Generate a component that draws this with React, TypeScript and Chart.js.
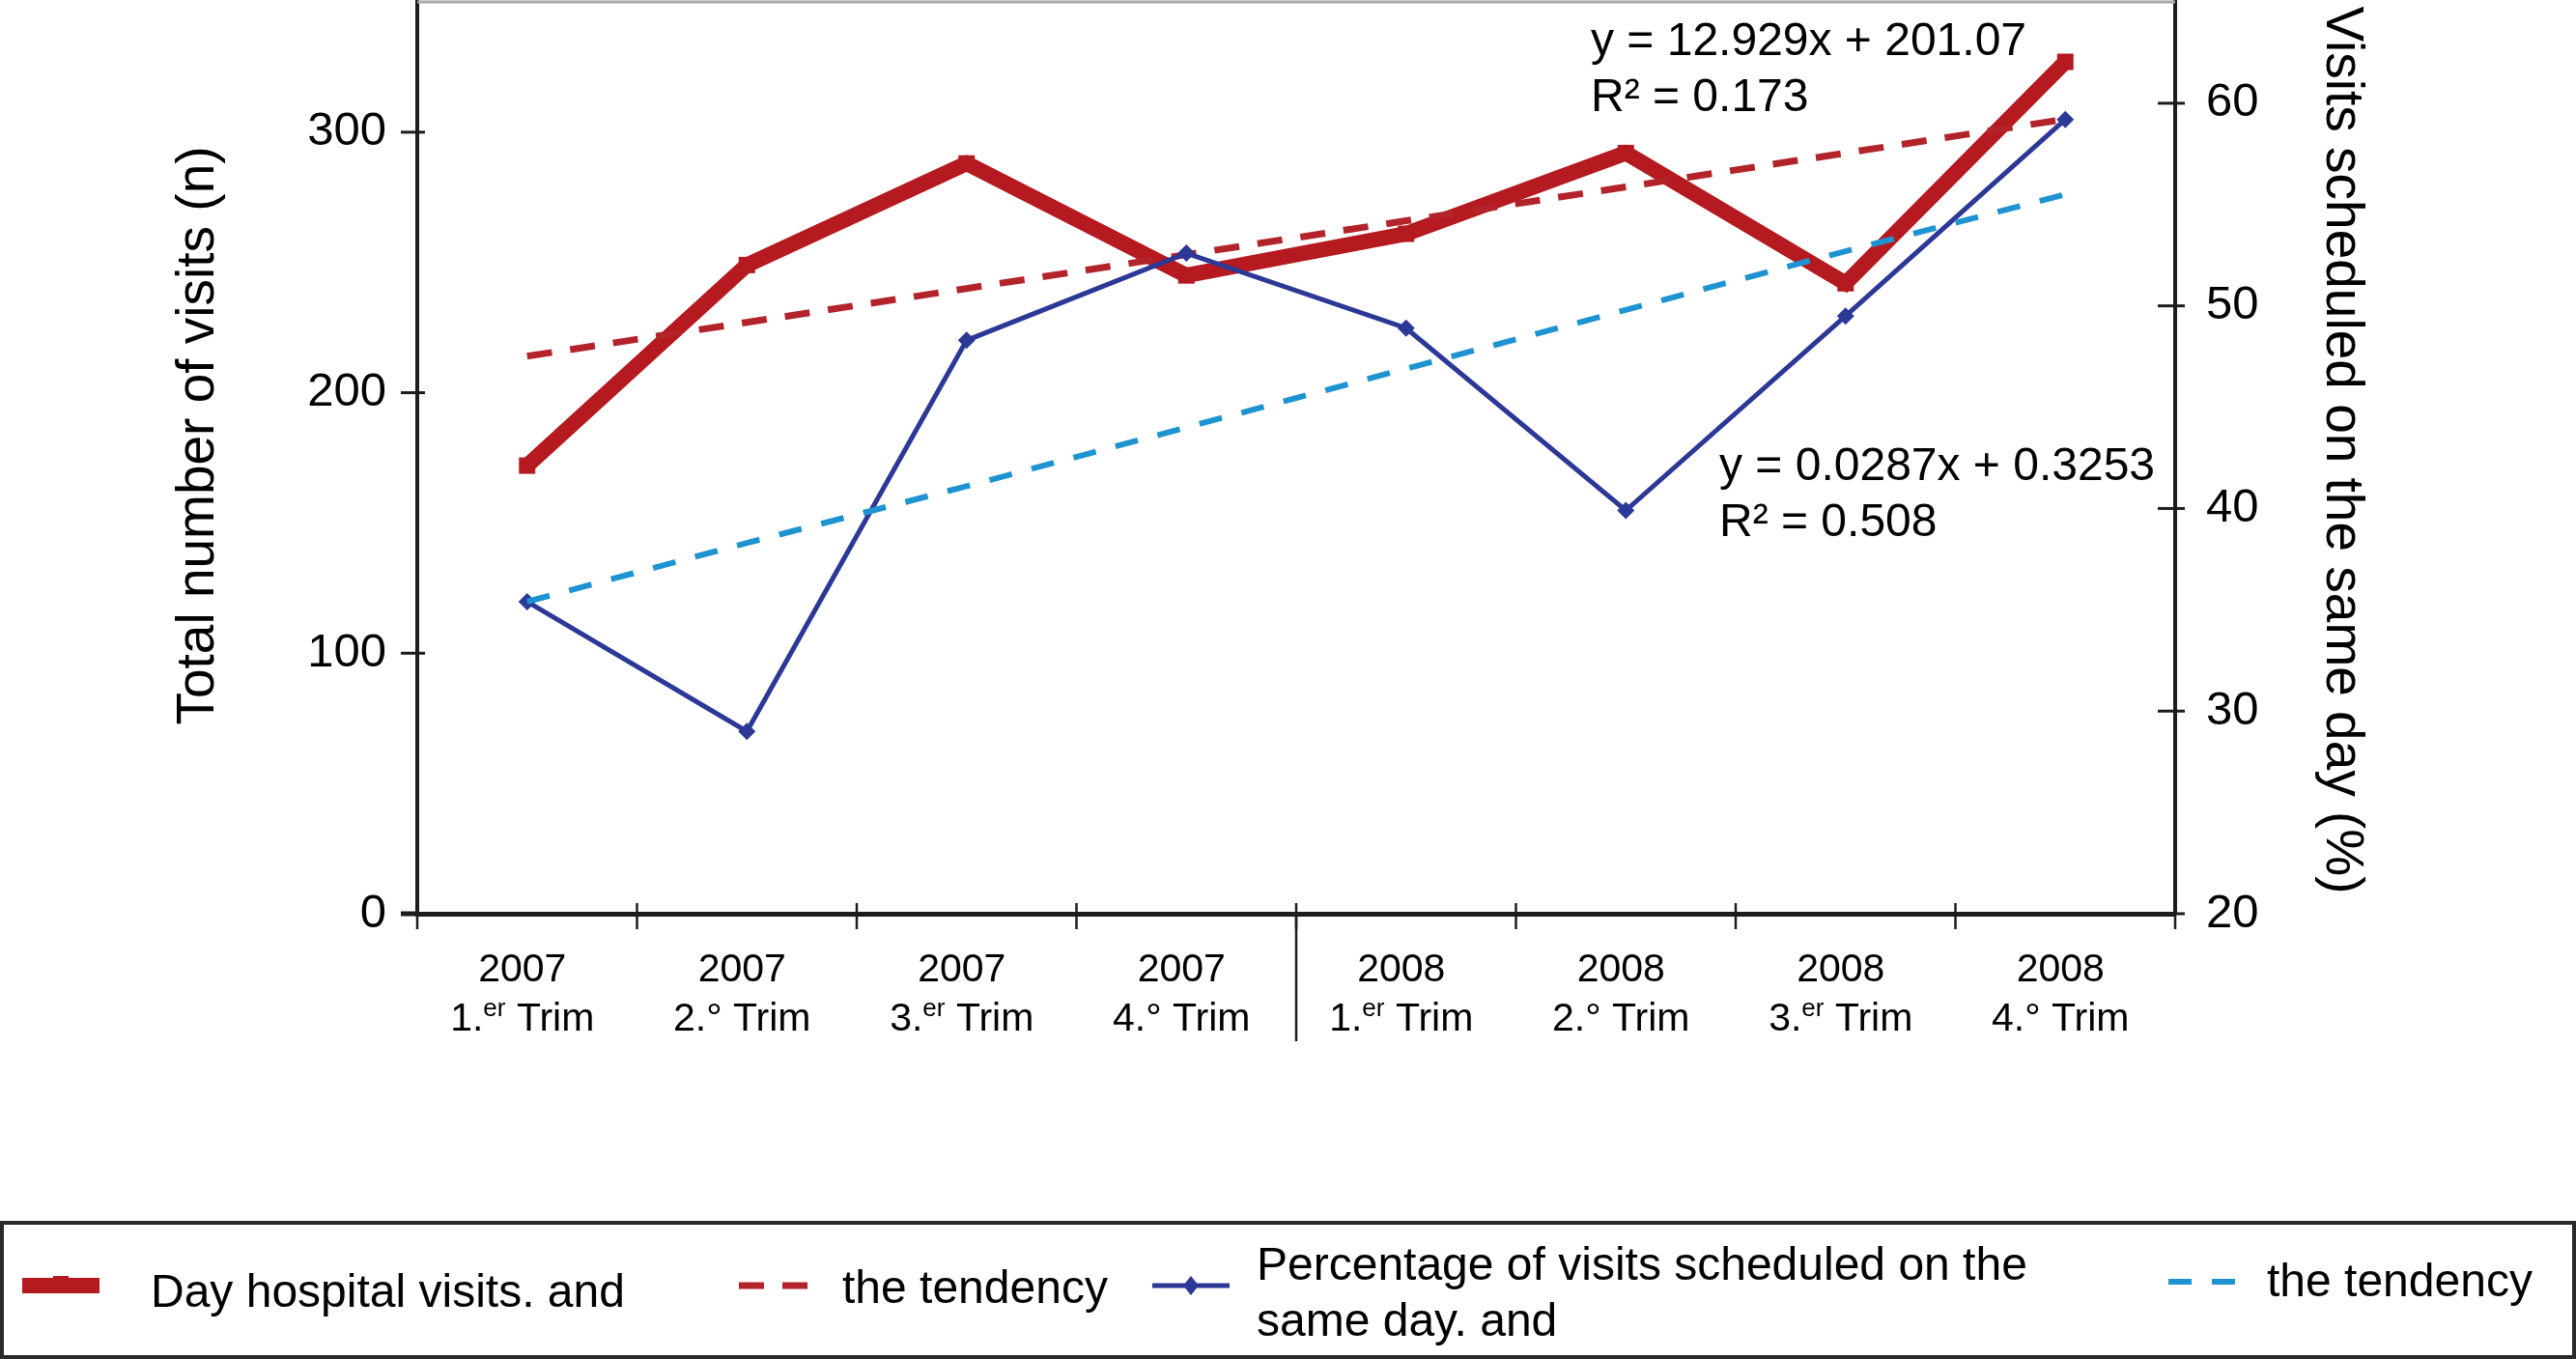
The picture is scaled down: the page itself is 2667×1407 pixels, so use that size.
import React, { useEffect, useRef } from 'react';
import { Chart, registerables } from 'chart.js';

Chart.register(...registerables);

// ---------- data ----------
const years = ['2007', '2007', '2007', '2007', '2008', '2008', '2008', '2008'];
const quarterNums = ['1.', '2.', '3.', '4.', '1.', '2.', '3.', '4.'];
const quarterSups = ['er', '°', 'er', '°', 'er', '°', 'er', '°'];
const quarterWord = 'Trim';

const visits = [172, 249, 288, 245, 261, 292, 242, 327];
const visitsTrend = [214, 227, 240, 253, 266, 279, 292, 305];
const sameDayPct = [35.4, 29.0, 48.3, 52.6, 48.9, 39.9, 49.5, 59.2];
const sameDayTrend = [35.4, 38.3, 41.1, 44.0, 46.9, 49.8, 52.7, 55.5];

const leftAxisRange = [0, 350];
const leftAxisStep = 50;
const leftAxisLabelEvery = 100;
const rightAxisRange = [20, 65];
const rightAxisStep = 5;
const rightAxisLabelEvery = 10;

const leftTitle = 'Total number of visits (n)';
const rightTitle = 'Visits scheduled on the same day (%)';

const seriesLabels = [
  ['Day hospital visits. and'],
  ['the tendency'],
  ['Percentage of visits scheduled on the', 'same day. and'],
  ['the tendency'],
];

const trendNotes = [
  ['y = 12.929x + 201.07', 'R\u00B2 = 0.173'],
  ['y = 0.0287x + 0.3253', 'R\u00B2 = 0.508'],
];

// ---------- styles ----------
const FONT = '"Liberation Sans", Arial, Helvetica, sans-serif';
const RED = '#B41A20';
const RED_DASH = '#B3232A';
const BLUE = '#2C3896';
const LBLUE = '#1E93D2';
const AXIS = '#1c1c1c';

export default function App() {
  const ref = useRef<HTMLCanvasElement | null>(null);

  useEffect(() => {
    document.body.style.margin = '0';
    document.body.style.overflow = 'hidden';
    const canvas = ref.current;
    if (!canvas) return;

    const line = (ctx: CanvasRenderingContext2D, x1: number, y1: number, x2: number, y2: number) => {
      ctx.beginPath();
      ctx.moveTo(x1, y1);
      ctx.lineTo(x2, y2);
      ctx.stroke();
    };

    const overlay = {
      id: 'overlay',
      afterDraw(chart: any) {
        const ctx: CanvasRenderingContext2D = chart.ctx;
        const ca = chart.chartArea;
        const xs = chart.scales.x;
        const ys = chart.scales.y;
        const y1 = chart.scales.y1;
        ctx.save();

        // top frame line
        ctx.strokeStyle = '#a8a8a8';
        ctx.lineWidth = 3;
        line(ctx, ca.left, ca.top, ca.right, ca.top);

        // axis ticks
        ctx.strokeStyle = AXIS;
        ctx.lineWidth = 3;
        ys.ticks.forEach((t: any) => {
          const p = ys.getPixelForValue(t.value);
          line(ctx, ca.left - 17, p, ca.left + 8, p);
        });
        y1.ticks.forEach((t: any) => {
          const p = y1.getPixelForValue(t.value);
          line(ctx, ca.right - 18, p, ca.right + 10, p);
        });
        ctx.lineWidth = 5;
        line(ctx, ca.left - 17, ca.bottom, ca.left, ca.bottom);

        const n = years.length;
        const step = xs.getPixelForValue(1) - xs.getPixelForValue(0);
        const b0 = xs.getPixelForValue(0) - step / 2;
        ctx.lineWidth = 2.5;
        for (let i = 0; i <= n; i++) {
          const bx = b0 + i * step;
          line(ctx, bx, ca.bottom - 11, bx, ca.bottom + 16);
        }
        ctx.lineWidth = 2.5;
        for (let i = 1; i < n; i++) {
          if (years[i] !== years[i - 1]) {
            const bx = b0 + i * step;
            line(ctx, bx, ca.bottom, bx, ca.bottom + 132);
          }
        }

        // x labels
        ctx.fillStyle = '#000';
        ctx.textBaseline = 'alphabetic';
        const mainF = `41px ${FONT}`;
        const supF = `26px ${FONT}`;
        for (let i = 0; i < n; i++) {
          const cx = xs.getPixelForValue(i) - 5;
          ctx.font = mainF;
          ctx.textAlign = 'center';
          ctx.fillText(years[i], cx, 1016);
          ctx.textAlign = 'left';
          const sup = quarterSups[i];
          const isSup = sup !== '°';
          const a = isSup ? quarterNums[i] : quarterNums[i] + sup;
          const b = ' ' + quarterWord;
          ctx.font = mainF;
          const wa = ctx.measureText(a).width;
          const wb = ctx.measureText(b).width;
          ctx.font = supF;
          const ws = isSup ? ctx.measureText(sup).width : 0;
          let x = cx - (wa + ws + wb) / 2;
          ctx.font = mainF;
          ctx.fillText(a, x, 1067);
          x += wa;
          if (isSup) {
            ctx.font = supF;
            ctx.fillText(sup, x, 1052);
            x += ws;
          }
          ctx.font = mainF;
          ctx.fillText(b, x, 1067);
        }

        // axis titles
        ctx.font = `55px ${FONT}`;
        ctx.textAlign = 'center';
        ctx.save();
        ctx.translate(221, 451);
        ctx.rotate(-Math.PI / 2);
        ctx.fillText(leftTitle, 0, 0);
        ctx.restore();
        ctx.save();
        ctx.translate(2409, 466);
        ctx.rotate(Math.PI / 2);
        ctx.fillText(rightTitle, 0, 0);
        ctx.restore();

        // trend equations
        ctx.font = `48px ${FONT}`;
        ctx.textAlign = 'left';
        const notePos = [
          [1647, 57],
          [1780, 497],
        ];
        trendNotes.forEach((lines, k) => {
          lines.forEach((s, j) => ctx.fillText(s, notePos[k][0], notePos[k][1] + j * 58));
        });

        // legend box
        ctx.strokeStyle = '#2a2a2a';
        ctx.lineWidth = 4;
        ctx.strokeRect(2, 1266, 2663, 139);

        const ds = chart.data.datasets;
        const sym = [
          { x1: 23, x2: 103, y: 1331 },
          { x1: 765, x2: 842, y: 1331 },
          { x1: 1193, x2: 1273, y: 1331 },
          { x1: 2245, x2: 2316, y: 1327 },
        ];
        ds.forEach((d: any, k: number) => {
          const s = sym[k];
          ctx.save();
          ctx.strokeStyle = d.borderColor;
          ctx.lineWidth = d.borderWidth;
          ctx.setLineDash(d.borderDash || []);
          ctx.lineCap = 'butt';
          line(ctx, s.x1, s.y, s.x2, s.y);
          ctx.setLineDash([]);
          ctx.fillStyle = d.borderColor;
          const mx = (s.x1 + s.x2) / 2;
          if (d.pointStyle === 'rect') {
            ctx.fillRect(mx - 8, s.y - 10, 16, 16);
          } else if (d.pointStyle === 'rectRot') {
            ctx.beginPath();
            ctx.moveTo(mx, s.y - 10);
            ctx.lineTo(mx + 8, s.y);
            ctx.lineTo(mx, s.y + 10);
            ctx.lineTo(mx - 8, s.y);
            ctx.closePath();
            ctx.fill();
          }
          ctx.restore();
        });
        ctx.fillStyle = '#000';
        ctx.font = `48px ${FONT}`;
        ctx.textAlign = 'left';
        const textPos = [
          [156, 1353],
          [872, 1349],
          [1301, 1325],
          [2347, 1342],
        ];
        seriesLabels.forEach((lines, k) => {
          lines.forEach((s, j) => ctx.fillText(s, textPos[k][0], textPos[k][1] + j * 58));
        });

        ctx.restore();
      },
    };

    const fixVertical = (w: number) => (s: any) => {
      s.width = w;
      s.paddingTop = 0;
      s.paddingBottom = 0;
    };

    const chart = new Chart(canvas, {
      type: 'line',
      data: {
        labels: years.map((y, i) => `${y} ${quarterNums[i]}${quarterSups[i]} ${quarterWord}`),
        datasets: [
          {
            label: seriesLabels[0].join(' '),
            data: visits,
            yAxisID: 'y',
            borderColor: RED,
            backgroundColor: RED,
            borderWidth: 16,
            borderJoinStyle: 'miter',
            pointStyle: 'rect',
            pointRadius: 12,
            pointBorderWidth: 0,
            tension: 0,
            order: 4,
          },
          {
            label: seriesLabels[1].join(' '),
            data: visitsTrend,
            yAxisID: 'y',
            borderColor: RED_DASH,
            backgroundColor: RED_DASH,
            borderWidth: 7,
            borderDash: [26, 19],
            pointRadius: 0,
            tension: 0,
            order: 3,
          },
          {
            label: seriesLabels[2].join(' '),
            data: sameDayPct,
            yAxisID: 'y1',
            borderColor: BLUE,
            backgroundColor: BLUE,
            borderWidth: 5,
            pointStyle: 'rectRot',
            pointRadius: 9,
            pointBorderWidth: 0,
            tension: 0,
            order: 2,
          },
          {
            label: seriesLabels[3].join(' '),
            data: sameDayTrend,
            yAxisID: 'y1',
            borderColor: LBLUE,
            backgroundColor: LBLUE,
            borderWidth: 6,
            borderDash: [24, 21],
            pointRadius: 0,
            tension: 0,
            order: 1,
          },
        ],
      } as any,
      options: {
        responsive: false,
        animation: false,
        devicePixelRatio: 1,
        layout: { autoPadding: false, padding: { top: 2, left: 0, right: 0, bottom: 0 } },
        plugins: {
          legend: { display: false },
          tooltip: { enabled: false },
          title: { display: false },
        },
        scales: {
          x: {
            type: 'category',
            offset: true,
            grid: { display: false, drawTicks: false, offset: true },
            border: { display: true, color: AXIS, width: 5 },
            ticks: { display: false },
            afterFit: (s: any) => {
              s.height = 461;
              s.paddingLeft = 0;
              s.paddingRight = 0;
            },
          },
          y: {
            position: 'left',
            min: leftAxisRange[0],
            max: leftAxisRange[1],
            grid: { display: false, drawTicks: false },
            border: { display: true, color: AXIS, width: 4 },
            ticks: {
              stepSize: leftAxisStep,
              padding: 32,
              color: '#000',
              font: { size: 49, family: FONT },
              callback: (v: any) => (Number(v) % leftAxisLabelEvery === 0 ? String(v) : null),
            },
            afterFit: fixVertical(432),
          },
          y1: {
            position: 'right',
            min: rightAxisRange[0],
            max: rightAxisRange[1],
            grid: { display: false, drawTicks: false },
            border: { display: true, color: AXIS, width: 4 },
            ticks: {
              stepSize: rightAxisStep,
              padding: 32,
              color: '#000',
              font: { size: 49, family: FONT },
              callback: (v: any) => (Number(v) % rightAxisLabelEvery === 0 ? String(v) : null),
            },
            afterFit: fixVertical(415),
          },
        },
      } as any,
      plugins: [overlay],
    });

    return () => chart.destroy();
  }, []);

  return (
    <canvas
      ref={ref}
      width={2667}
      height={1407}
      style={{ display: 'block', width: '2667px', height: '1407px' }}
    />
  );
}
